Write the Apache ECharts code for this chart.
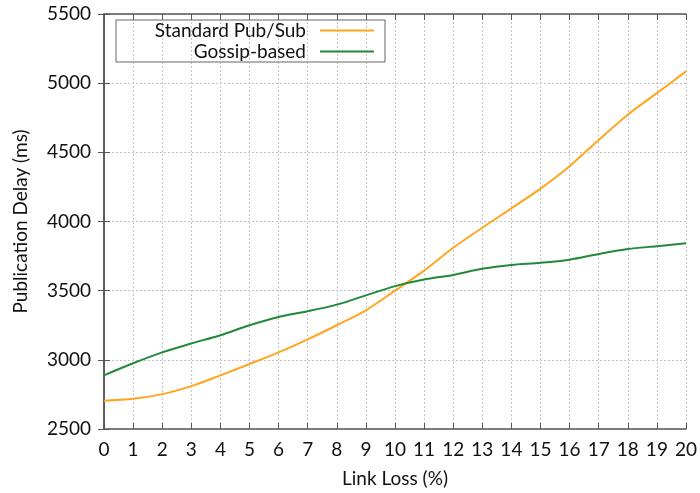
<!DOCTYPE html>
<html><head><meta charset="utf-8">
<script src="https://cdn.jsdelivr.net/npm/echarts@6/dist/echarts.min.js"></script>
<style>html,body{margin:0;padding:0;background:#fff}#c{width:700px;height:493px}</style>
</head><body><div id="c"></div>
<script>
const linkLoss = [0,1,2,3,4,5,6,7,8,9,10,11,12,13,14,15,16,17,18,19,20];
const standardPubSub = [2705,2718,2752,2810,2888,2970,3054,3148,3250,3358,3500,3645,3810,3955,4095,4238,4400,4590,4772,4928,5085];
const gossipBased = [2888,2975,3054,3118,3178,3250,3310,3351,3399,3466,3533,3581,3614,3658,3686,3701,3724,3765,3801,3821,3842];
const seriesNames = ['Standard Pub/Sub','Gossip-based'];
const FONT = 'Lato';
const FS = 19;
const axisCol = '#555';
const chart = echarts.init(document.getElementById('c'));
const mkData = a => a.map((v,i)=>[linkLoss[i], v]);
chart.setOption({
  animation:false,
  textStyle:{fontFamily:FONT},
  grid:{left:104,right:11,top:14,bottom:62,show:false},
  legend:{
    orient:'vertical', left:116, top:20, align:'right',
    borderColor:'#666', borderWidth:1, borderRadius:0,
    padding:[1,11,1,20],
    itemGap:2, itemWidth:54, itemHeight:2,
    icon:'rect',
    textStyle:{fontFamily:FONT,fontSize:FS,lineHeight:18,color:'#111',width:170,align:'right',padding:[0,9,0,0]},
    data:seriesNames
  },
  xAxis:[{
    type:'value',min:0,max:20,interval:1,
    name:'Link Loss (%)',nameLocation:'middle',nameGap:40,
    nameTextStyle:{fontFamily:FONT,fontSize:FS,color:'#111'},
    axisLine:{show:true,lineStyle:{color:axisCol,width:1.5}},
    axisTick:{show:true,inside:true,length:6,lineStyle:{color:axisCol}},
    axisLabel:{fontFamily:FONT,fontSize:FS,color:'#111',margin:11},
    splitLine:{show:true,lineStyle:{color:'#c4c4c4',type:[2,2],width:1}}
  },{
    type:'value',min:0,max:20,interval:1,position:'top',
    axisLine:{show:true,lineStyle:{color:axisCol,width:1.5}},
    axisTick:{show:true,inside:true,length:6,lineStyle:{color:axisCol}},
    axisLabel:{show:false},splitLine:{show:false}
  }],
  yAxis:[{
    type:'value',min:2500,max:5500,interval:500,
    name:'Publication Delay (ms)',nameLocation:'middle',nameGap:74,
    nameTextStyle:{fontFamily:FONT,fontSize:FS,color:'#111'},
    axisLine:{show:true,lineStyle:{color:axisCol,width:1.5}},
    axisTick:{show:true,inside:true,length:6,lineStyle:{color:axisCol}},
    axisLabel:{fontFamily:FONT,fontSize:FS,color:'#111',margin:13,formatter:v=>String(v)},
    splitLine:{show:true,lineStyle:{color:'#c4c4c4',type:[2,2],width:1}}
  },{
    type:'value',min:2500,max:5500,interval:500,position:'right',
    axisLine:{show:true,lineStyle:{color:axisCol,width:1.5}},
    axisTick:{show:true,inside:true,length:6,lineStyle:{color:axisCol}},
    axisLabel:{show:false},splitLine:{show:false}
  }],
  series:[{
    name:seriesNames[0],type:'line',data:mkData(standardPubSub),smooth:0.3,
    showSymbol:false,symbol:'none',color:'#ffa51f',lineStyle:{width:2,color:'#ffa51f'}
  },{
    name:seriesNames[1],type:'line',data:mkData(gossipBased),smooth:0.3,
    showSymbol:false,symbol:'none',color:'#22893a',lineStyle:{width:2,color:'#22893a'}
  }]
});
</script></body></html>
